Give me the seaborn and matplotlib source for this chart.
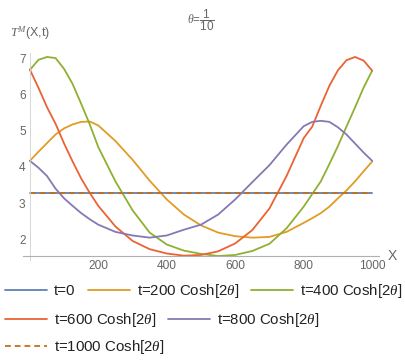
import matplotlib
matplotlib.use("Agg")
import matplotlib.pyplot as plt
import numpy as np
import pandas as pd
import seaborn as sns
from matplotlib.ticker import MultipleLocator

sns.set_style("white")
plt.rcParams["font.family"] = ["Liberation Sans", "DejaVu Sans"]
plt.rcParams["mathtext.fontset"] = "custom"
plt.rcParams["mathtext.it"] = "Liberation Serif:italic"
plt.rcParams["mathtext.rm"] = "Liberation Sans"

# values (finer sampling near the ends)
x_vals = [0, 25, 50, 75, 100, 125, 150, 175, 200,
          250, 300, 350, 400, 450, 500, 550, 600, 650, 700, 750,
          800, 825, 850, 875, 900, 925, 950, 975, 1000]

t0 = [3.28] * 29
t200 = [4.17, 4.42, 4.66, 4.9, 5.07, 5.18, 5.25, 5.26, 5.15,
        4.72, 4.2, 3.62, 3.1, 2.68, 2.38, 2.18, 2.08, 2.04, 2.06, 2.2,
        2.45, 2.58, 2.72, 2.9, 3.13, 3.35, 3.6, 3.88, 4.15]
t400 = [6.69, 6.97, 7.05, 7.02, 6.72, 6.3, 5.75, 5.18, 4.55,
        3.6, 2.8, 2.18, 1.85, 1.68, 1.59, 1.53, 1.56, 1.67, 1.87, 2.3,
        2.9, 3.25, 3.6, 4.08, 4.58, 5.12, 5.65, 6.2, 6.67]
t600 = [6.7, 6.2, 5.66, 5.2, 4.65, 4.15, 3.68, 3.28, 2.92,
        2.35, 1.95, 1.72, 1.6, 1.54, 1.56, 1.66, 1.88, 2.25, 2.85, 3.75,
        4.8, 5.12, 5.7, 6.25, 6.68, 6.96, 7.05, 6.95, 6.67]
t800 = [4.17, 3.98, 3.75, 3.4, 3.13, 2.92, 2.72, 2.55, 2.4,
        2.2, 2.1, 2.04, 2.1, 2.26, 2.4, 2.68, 3.1, 3.58, 4.05, 4.62,
        5.13, 5.25, 5.28, 5.25, 5.1, 4.9, 4.65, 4.4, 4.17]
t1000 = [3.28] * 29

labels = ["t=0", "t=200 Cosh[2$\\theta$]", "t=400 Cosh[2$\\theta$]",
          "t=600 Cosh[2$\\theta$]", "t=800 Cosh[2$\\theta$]",
          "t=1000 Cosh[2$\\theta$]"]
series = [t0, t200, t400, t600, t800, t1000]
colors = ["#5E81B5", "#E19C24", "#8FB032", "#EB6235", "#8778B3", "#C56E1A"]

df = pd.concat(
    [pd.DataFrame({"X": x_vals, "T": s, "t": lab}) for lab, s in zip(labels, series)],
    ignore_index=True,
)

fig = plt.figure(figsize=(4.06, 3.61), dpi=100)
ax = fig.add_axes([23 / 406, 1 - 260 / 361, 356 / 406, 207 / 361])

dashes = {lab: "" for lab in labels}
dashes[labels[-1]] = (3.2, 2.2)
sns.lineplot(data=df, x="X", y="T", hue="t", style="t", palette=colors,
             dashes=dashes, hue_order=labels, style_order=labels,
             linewidth=1.3, ax=ax, legend=True)
handles, _ = ax.get_legend_handles_labels()
ax.get_legend().remove()

ax.set_xlim(-20, 1020)
ax.set_ylim(1.42, 7.16)
ax.spines["top"].set_visible(False)
ax.spines["right"].set_visible(False)
ax.spines["left"].set_position(("data", 0))
ax.spines["bottom"].set_position(("data", 1.53))
ax.spines["left"].set_color("#d0d0d0")
ax.spines["bottom"].set_color("#b0b0b0")
ax.spines["left"].set_linewidth(0.6)
ax.spines["bottom"].set_linewidth(0.8)

ax.set_xticks([200, 400, 600, 800, 1000])
ax.set_yticks([2, 3, 4, 5, 6, 7])
ax.xaxis.set_minor_locator(MultipleLocator(50))
ax.yaxis.set_minor_locator(MultipleLocator(0.2))
ax.tick_params(axis="both", which="major", direction="in", length=3.5,
               width=0.6, color="#b0b0b0", labelsize=8.6, labelcolor="#666666", pad=3)
ax.tick_params(axis="both", which="minor", direction="in", length=2,
               width=0.5, color="#c8c8c8")
ax.set_xlabel("")
ax.set_ylabel("")

ax.set_title("$\\theta$=$\\dfrac{1}{10}$", fontsize=8.5, color="#666666", pad=21)
fig.text(10 / 406, 1 - 33 / 361, "$T^M$(X,t)", fontsize=9, color="#666666",
         va="center", ha="left")
ax.text(1045, 1.53, "X", fontsize=10, color="#666666", va="center", ha="left",
        clip_on=False)

rows = [([0, 1, 2], 291), ([3, 4], 320), ([5], 347)]
for idx, ypix in rows:
    leg = fig.legend([handles[i] for i in idx], [labels[i] for i in idx],
                     loc="center left", bbox_to_anchor=(5 / 406, 1 - ypix / 361),
                     ncol=len(idx), frameon=False, fontsize=10.8,
                     handlelength=2.8, handletextpad=0.47, columnspacing=0.8,
                     borderpad=0, borderaxespad=0)
    for txt in leg.get_texts():
        txt.set_color("#222222")

fig.savefig("out.png", dpi=100)
